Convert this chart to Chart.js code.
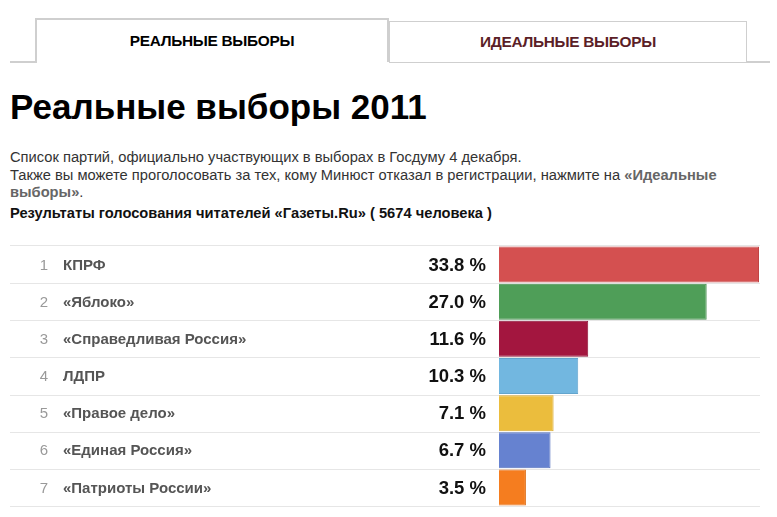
<!DOCTYPE html>
<html>
<head>
<meta charset="utf-8">
<script src="https://cdn.jsdelivr.net/npm/chart.js@4.4.0/dist/chart.umd.min.js"></script>
<style>
  html, body { margin:0; padding:0; background:#fff; width:777px; height:517px; overflow:hidden; font-family:"Liberation Sans", Arial, sans-serif; }
  .abs { position:absolute; }
  #tab1 { left:35px; top:18px; height:44px; border:2px solid #cfcfcf; border-bottom:none; background:#fff; box-sizing:border-box; width:354px; }
  #tab2 { left:389px; top:21px; width:358px; height:41px; border:1px solid #cfcfcf; border-bottom:none; background:#fff; box-sizing:border-box; }
  .tabtxt { position:absolute; left:0; right:0; top:0; bottom:0; display:flex; align-items:center; justify-content:center; font-weight:bold; font-size:15.4px; letter-spacing:-0.3px; }
  #base1 { left:10px; top:61px; width:27px; height:2px; background:#cfcfcf; }
  #base2 { left:389px; top:61px; width:381px; height:2px; background:#cfcfcf; }
  #title { left:10px; top:89px; font-size:35px; line-height:35px; font-weight:bold; color:#000; white-space:nowrap; }
  #intro { left:10px; top:149px; width:735px; font-size:14.7px; line-height:17.5px; color:#333; }
  #intro b { color:#666; }
  #sub { left:10px; top:204.5px; font-size:14.7px; line-height:17px; font-weight:bold; color:#111; white-space:nowrap; }
  #wrap { left:0; top:245px; width:777px; height:262px; }
</style>
</head>
<body>
<div id="tab1" class="abs"><div class="tabtxt" style="color:#000;">РЕАЛЬНЫЕ ВЫБОРЫ</div></div>
<div id="base1" class="abs"></div>
<div id="base2" class="abs"></div>
<div id="tab2" class="abs"><div class="tabtxt" style="color:#5b1e27;">ИДЕАЛЬНЫЕ ВЫБОРЫ</div></div>
<div id="title" class="abs">Реальные выборы 2011</div>
<div id="intro" class="abs">Список партий, официально участвующих в выборах в Госдуму 4 декабря.<br>Также вы можете проголосовать за тех, кому Минюст отказал в регистрации, нажмите на <b>«Идеальные выборы»</b>.</div>
<div id="sub" class="abs">Результаты голосования читателей «Газеты.Ru» ( 5674 человека )</div>
<div id="wrap" class="abs"><canvas id="c" width="777" height="262"></canvas></div>
<script>
const ranks = ["1","2","3","4","5","6","7"];
const parties = ["КПРФ","«Яблоко»","«Справедливая Россия»","ЛДПР","«Правое дело»","«Единая Россия»","«Патриоты России»"];
const shares = [33.8, 27.0, 11.6, 10.3, 7.1, 6.7, 3.5];
const barColors = ["#d45050","#4f9e58","#a3163f","#72b7e0","#ebbd3d","#6682d0","#f57d1f"];
const borderColors = ["#c04545","#448c4c","#8c1236","#63a5cd","#d9ab30","#5873bf","#dd6d14"];

const rowPlugin = {
  id: 'rows',
  beforeDatasetsDraw(chart) {
    const ctx = chart.ctx, y = chart.scales.y, area = chart.chartArea;
    ctx.save();
    ctx.strokeStyle = '#e6e6e6';
    ctx.lineWidth = 1;
    const n = parties.length;
    const bounds = [area.top - 0.5];
    for (let i = 0; i < n - 1; i++) bounds.push(Math.round((y.getPixelForValue(i) + y.getPixelForValue(i + 1)) / 2) + 0.5);
    bounds.push(area.bottom + 0.5);
    bounds.forEach(b => { ctx.beginPath(); ctx.moveTo(10, b); ctx.lineTo(760, b); ctx.stroke(); });
    ctx.restore();
  },
  afterDatasetsDraw(chart) {
    const ctx = chart.ctx, y = chart.scales.y;
    ctx.save();
    ctx.textBaseline = 'middle';
    parties.forEach((p, i) => {
      const cy = y.getPixelForValue(i) + 1;
      ctx.font = '15px "Liberation Sans", Arial, sans-serif';
      ctx.fillStyle = '#999';
      ctx.textAlign = 'center';
      ctx.fillText(ranks[i], 44, cy);
      ctx.font = 'bold 15px "Liberation Sans", Arial, sans-serif';
      ctx.fillStyle = '#555';
      ctx.textAlign = 'left';
      ctx.fillText(p, 63, cy);
      ctx.font = 'bold 18.5px "Liberation Sans", Arial, sans-serif';
      ctx.fillStyle = '#111';
      ctx.textAlign = 'right';
      ctx.fillText(shares[i].toFixed(1) + ' %', 486, cy);
    });
    ctx.restore();
  }
};

new Chart(document.getElementById('c'), {
  type: 'bar',
  data: {
    labels: parties,
    datasets: [{
      data: shares,
      backgroundColor: barColors,
      borderColor: borderColors,
      borderWidth: 1,
      barPercentage: 0.97,
      categoryPercentage: 1.0
    }]
  },
  options: {
    indexAxis: 'y',
    responsive: false,
    animation: false,
    devicePixelRatio: 1,
    layout: { padding: { left: 499, right: 18, top: 1, bottom: 1 } },
    plugins: { legend: { display: false }, tooltip: { enabled: false } },
    scales: {
      x: { display: false, min: 0, max: Math.max(...shares) },
      y: { display: false }
    }
  },
  plugins: [rowPlugin]
});
</script>
</body>
</html>
